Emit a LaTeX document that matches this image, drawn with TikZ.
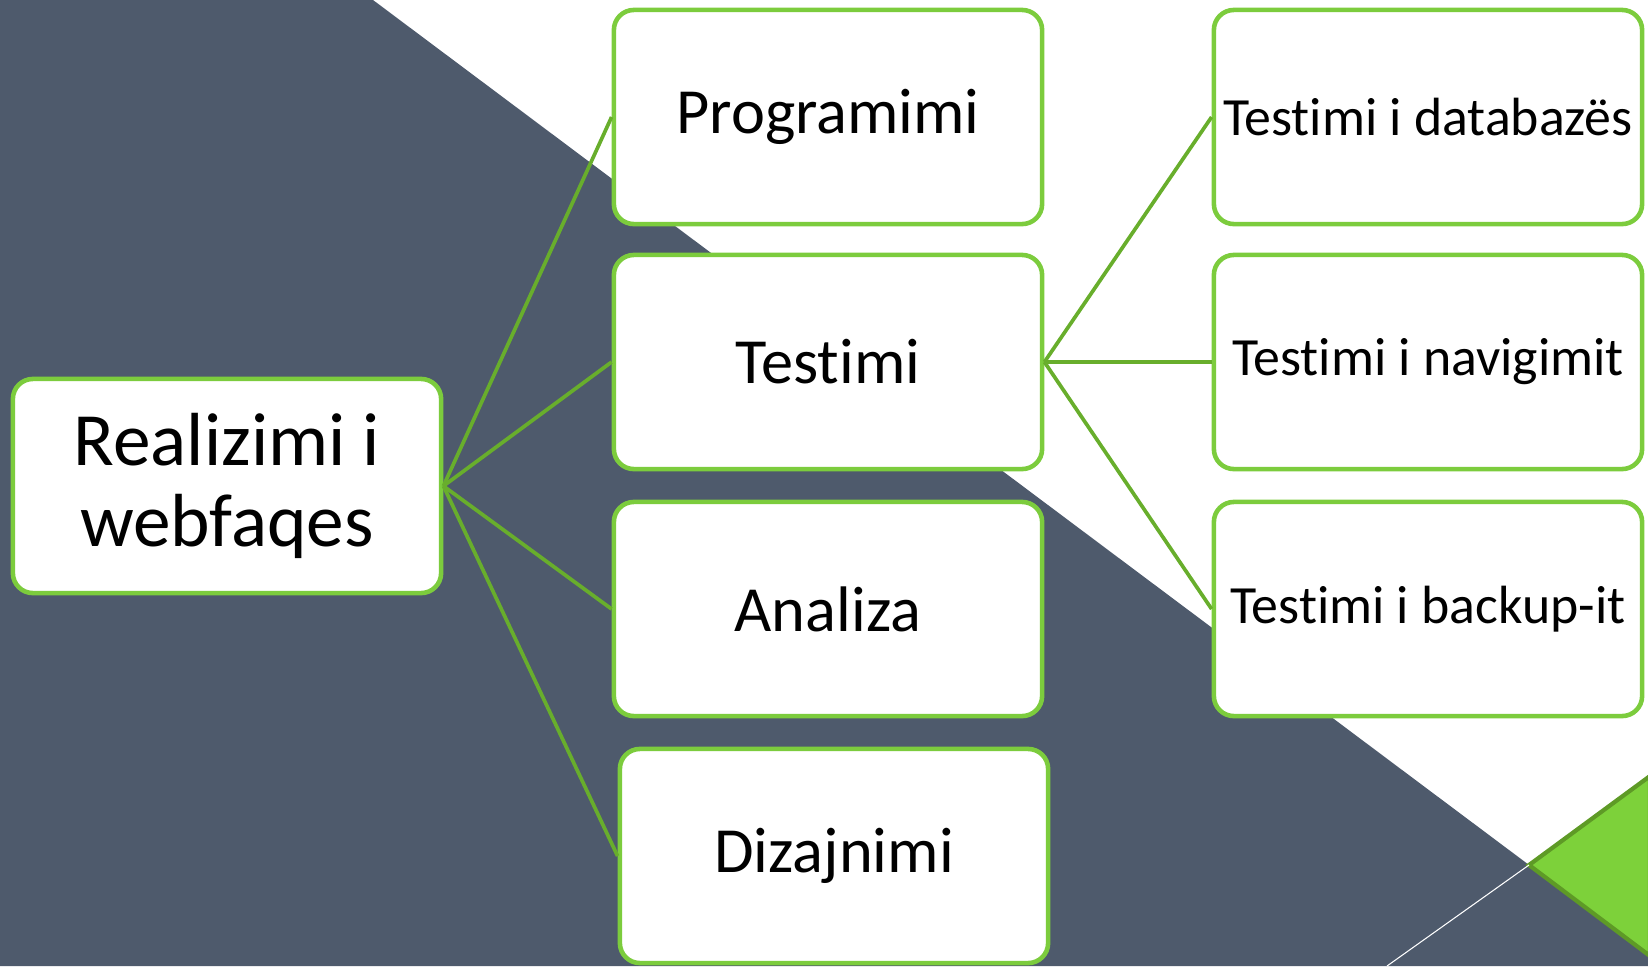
\documentclass[tikz,border=0pt]{standalone}
\usepackage{fontspec}
\setmainfont{Carlito}[Ligatures={NoCommon}]
\usetikzlibrary{calc}

\definecolor{slate}{HTML}{4E5A6C}
\definecolor{boxgreen}{HTML}{7CCC3D}
\definecolor{linkgreen}{HTML}{68AE2C}
\definecolor{trigreen}{HTML}{7DD13A}
\definecolor{tridark}{HTML}{5E9A26}

\tikzset{
    stepbox/.style={draw=boxgreen, line width=1.3pt, fill=white,
        rounded corners=0.2cm, minimum width=4.28cm, minimum height=2.14cm,
        inner sep=0pt, align=center},
    link/.style={draw=linkgreen, line width=1.05pt}
}

\begin{document}
\begin{tikzpicture}[x=0.01cm,y=-0.01cm]
                \useasboundingbox (0,0) rectangle (1648,966);

                % background
                \fill[slate] (0,0) -- (373,0) -- (1648,954) -- (1648,966) -- (0,966) -- cycle;
                \coordinate (T) at (1529,865);
                \coordinate (Tc) at (1387,966);
                \fill[trigreen, draw=tridark, line width=1.2pt, line join=miter]
                    (T) -- (1650,776) -- (1650,956) -- cycle;
                \draw[white, line width=0.3pt] (T) -- (Tc);

                % boxes
                \node[stepbox, font=\fontsize{21.4}{23.2}\selectfont] (root) at (227,486) {Realizimi i\\webfaqes};

                \node[stepbox, font=\fontsize{18.3}{22}\selectfont] (prog) at (828,117) {Programimi};
                \node[stepbox, font=\fontsize{18.3}{22}\selectfont] (test) at (828,362) {Testimi};
                \node[stepbox, font=\fontsize{18.3}{22}\selectfont] (anal) at (828,609) {Analiza};
                \node[stepbox, font=\fontsize{18.3}{22}\selectfont] (diz) at (834,856) {Dizajnimi};

                \node[stepbox, font=\fontsize{15.3}{19}\selectfont] (db) at (1428,117) {Testimi i databazës};
                \node[stepbox, font=\fontsize{15.3}{19}\selectfont] (nav) at (1428,362) {Testimi i navigimit};
                \node[stepbox, font=\fontsize{15.3}{19}\selectfont] (bak) at (1428,609) {Testimi i backup-it};

                % links
                \draw[link] (root.east) -- (prog.west);
                \draw[link] (root.east) -- (test.west);
                \draw[link] (root.east) -- (anal.west);
                \draw[link] (root.east) -- (diz.west);

                \draw[link] (test.east) -- (db.west);
                \draw[link] (test.east) -- (nav.west);
                \draw[link] (test.east) -- (bak.west);
            \end{tikzpicture}
\end{document}
